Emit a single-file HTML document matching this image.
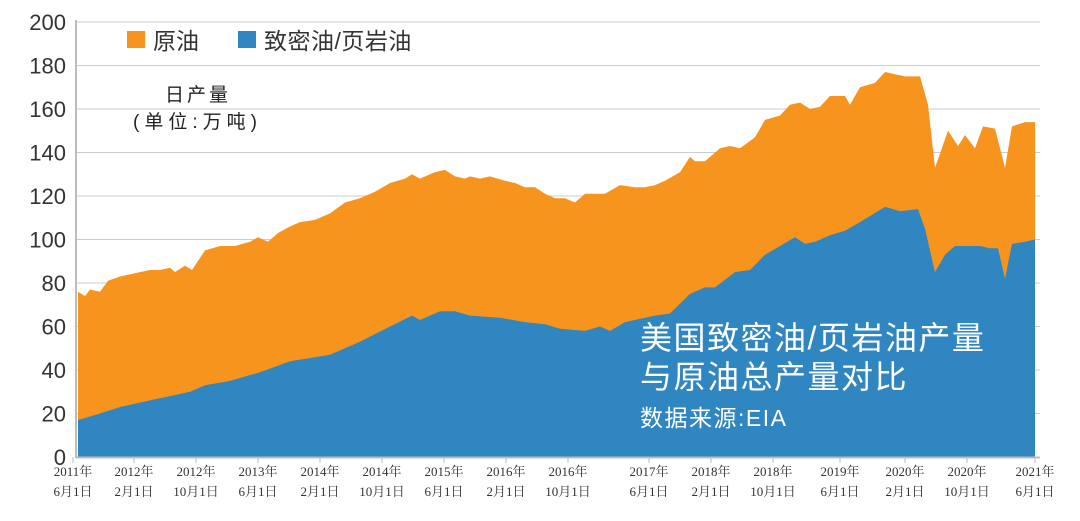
<!DOCTYPE html>
<html><head><meta charset="utf-8"><style>
body{margin:0;background:#fff;width:1080px;height:516px;overflow:hidden;font-family:"Liberation Sans","Noto Sans CJK SC",sans-serif}
</style></head><body>
<svg id="s" width="1080" height="516" xmlns="http://www.w3.org/2000/svg">
<g id="grid" stroke="#ccc" stroke-width="1"></g>
<polygon id="tot" fill="#f7941e"/>
<polygon id="blu" fill="#2f86c0"/>
<line x1="76" y1="20" x2="76" y2="458" stroke="#bbb" stroke-width="2"/>
<line x1="76" y1="457.5" x2="1040" y2="457.5" stroke="#bbb" stroke-width="2"/>
<g id="ylab" font-size="22" fill="#333" text-anchor="end" font-family="Liberation Sans,sans-serif"></g>
<g id="xlab" font-size="13" fill="#333" text-anchor="middle" font-family="Liberation Serif,'Noto Serif CJK SC',serif"></g>
<rect x="127" y="31" width="18" height="17" fill="#f7941e"/>
<text x="153" y="49" font-size="23" fill="#333">原油</text>
<rect x="238" y="31" width="18" height="17" fill="#2f86c0"/>
<text x="264" y="49" font-size="23" fill="#333" letter-spacing="0.5">致密油/页岩油</text>
<text x="165" y="101" font-size="19" fill="#222" letter-spacing="3">日产量</text>
<text x="133" y="128" font-size="19" fill="#222" letter-spacing="5">(单位:万吨)</text>
<text x="640" y="349" font-size="32" fill="#fff" letter-spacing="1.5">美国致密油/页岩油产量</text>
<text x="640" y="388" font-size="32" fill="#fff" letter-spacing="1.5">与原油总产量对比</text>
<text x="640" y="426" font-size="23" fill="#fff" letter-spacing="1.5">数据来源:EIA</text>
</svg>
<script>
var Y=v=>457-v*2.175;
var T=[[78,76],[85,74],[90,77],[100,76],[108,81],[120,83],[140,85],[150,86],[160,86],[170,87],[175,85],[185,88],[192,86],[205,95],[220,97],[235,97],[250,99],[258,101],[268,99],[278,103],[290,106],[300,108],[315,109],[330,112],[345,117],[360,119],[375,122],[390,126],[405,128],[412,130],[420,128],[435,131],[445,132],[455,129],[465,128],[470,129],[480,128],[490,129],[505,127],[515,126],[525,124],[535,124],[545,121],[555,119],[565,119],[575,117],[585,121],[595,121],[605,121],[620,125],[635,124],[645,124],[655,125],[665,127],[680,131],[690,138],[695,136],[705,136],[720,142],[730,143],[740,142],[755,147],[765,155],[780,157],[790,162],[800,163],[810,160],[820,161],[830,166],[845,166],[850,162],[860,170],[875,172],[885,177],[895,176],[905,175],[920,175],[928,162],[935,133],[948,150],[958,143],[965,148],[975,142],[983,152],[995,151],[1005,133],[1012,152],[1025,154],[1035,154]];
var B=[[78,17],[100,20],[120,23],[150,26],[170,28],[190,30],[205,33],[230,35],[260,39],[290,44],[330,47],[360,53],[390,60],[412,65],[420,63],[440,67],[455,67],[470,65],[500,64],[525,62],[545,61],[560,59],[585,58],[600,60],[610,58],[625,62],[655,65],[670,66],[690,75],[705,78],[715,78],[735,85],[750,86],[765,93],[795,101],[805,98],[815,99],[830,102],[845,104],[860,108],[885,115],[900,113],[918,114],[925,105],[935,85],[945,93],[955,97],[980,97],[990,96],[998,96],[1005,82],[1012,98],[1025,99],[1035,100]];
function P(a){return "78,457 "+a.map(p=>p[0]+","+Y(p[1]).toFixed(1)).join(" ")+" 1035,457";}
document.getElementById('tot').setAttribute('points',P(T));
document.getElementById('blu').setAttribute('points',P(B));
var g=document.getElementById('grid'),yl=document.getElementById('ylab'),xl=document.getElementById('xlab');
var ns="http://www.w3.org/2000/svg";
for(var v=0;v<=200;v+=20){var y=Y(v);if(v>0){var l=document.createElementNS(ns,'line');l.setAttribute('x1',76);l.setAttribute('x2',1040);l.setAttribute('y1',y);l.setAttribute('y2',y);g.appendChild(l);}
var t=document.createElementNS(ns,'text');t.setAttribute('x',66);t.setAttribute('y',y+8);t.textContent=v;yl.appendChild(t);}
var L=[["2011年","6月1日"],["2012年","2月1日"],["2012年","10月1日"],["2013年","6月1日"],["2014年","2月1日"],["2014年","10月1日"],["2015年","6月1日"],["2016年","2月1日"],["2016年","10月1日"],["2017年","6月1日"],["2018年","2月1日"],["2018年","10月1日"],["2019年","6月1日"],["2020年","2月1日"],["2020年","10月1日"],["2021年","6月1日"]];
var xs=[73,134,196,258,320,382,444,506,568,649,711,773,840,905,967,1035];
L.forEach((s,i)=>{var x=xs[i];
var tk=document.createElementNS(ns,'line');tk.setAttribute('x1',x);tk.setAttribute('x2',x);tk.setAttribute('y1',457);tk.setAttribute('y2',463);tk.setAttribute('stroke','#bbb');g.appendChild(tk);
[s[0],s[1]].forEach((w,j)=>{var t=document.createElementNS(ns,'text');t.setAttribute('x',x);t.setAttribute('y',476+j*20);t.textContent=w;xl.appendChild(t);});});
</script>
</body></html>
